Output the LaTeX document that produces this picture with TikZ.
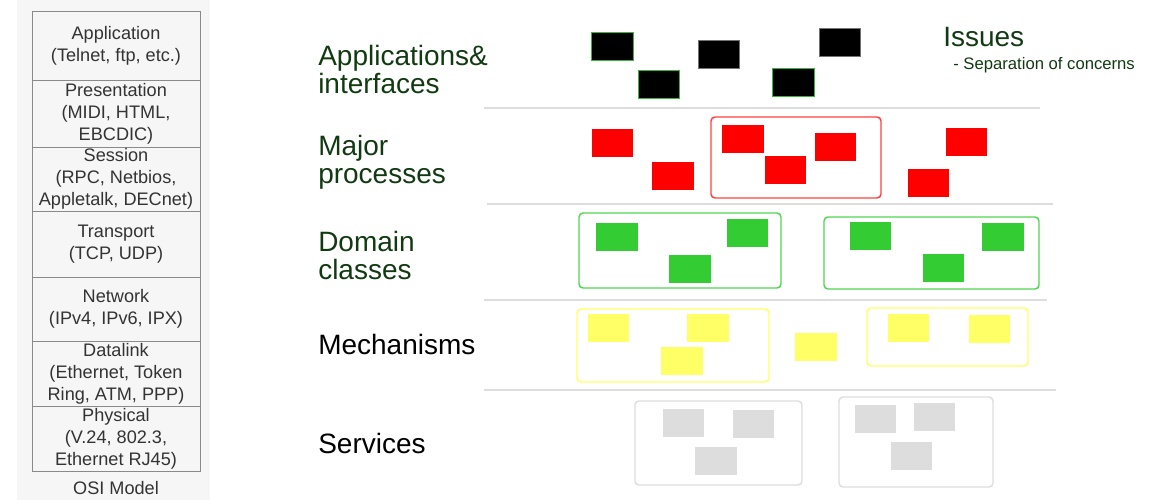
\documentclass[tikz,border=0pt]{standalone}
\usepackage{fontspec}
\setmainfont{Liberation Sans}
\definecolor{ositext}{HTML}{333333}
\definecolor{osiline}{HTML}{8A8A8A}
\definecolor{osibg}{HTML}{F6F6F6}
\definecolor{lblgreen}{HTML}{123A12}
\definecolor{sepgray}{HTML}{DDDDDD}
\definecolor{cred}{HTML}{FF0000}
\definecolor{cgreen}{HTML}{33CC33}
\definecolor{cyellow}{HTML}{FFFF66}
\definecolor{cgray}{HTML}{DDDDDD}
\definecolor{gedge}{HTML}{3CB43C}
\begin{document}
\begin{tikzpicture}[x=0.75pt,y=-0.75pt,
  osicell/.style={draw=osiline, line width=0.6pt, minimum width=126pt, inner sep=0pt,
    align=center, text=ositext, font=\fontsize{13.6}{16.5}\selectfont},
  lbl/.style={anchor=base west, inner sep=0pt, align=left, font=\fontsize{21}{21}\selectfont},
  sep/.style={draw=sepgray, line width=1.5pt},
  sbox/.style={minimum width=31pt, minimum height=21pt, inner sep=0pt, outer sep=0pt},
  blk/.style={sbox, fill=black, draw=black!55, line width=0.5pt},
  blkg/.style={sbox, fill=black, draw=gedge, line width=0.6pt},
  rbox/.style={sbox, fill=cred},
  gbox/.style={sbox, fill=cgreen},
  ybox/.style={sbox, fill=cyellow},
  xbox/.style={sbox, fill=cgray},
  frame/.style={rounded corners=3pt, line width=1.1pt, inner sep=0pt}
]
\useasboundingbox (0,0) rectangle (1159,500);
% OSI panel
\fill[osibg] (17,0) rectangle (210,500);
\node[osicell, minimum height=51.75pt] (l7) at (116,45.5) {Application\\(Telnet, ftp, etc.)};
\node[osicell, minimum height=50.25pt] (l6) at (116,113.5) {Presentation\\(MIDI, HTML,\\EBCDIC)};
\node[osicell, minimum height=48pt] (l5) at (116,179) {Session\\(RPC, Netbios,\\Appletalk, DECnet)};
\node[osicell, minimum height=49.5pt] (l4) at (116,244) {Transport\\(TCP, UDP)};
\node[osicell, minimum height=48pt] (l3) at (116,309) {Network\\(IPv4, IPv6, IPX)};
\node[osicell, minimum height=48.75pt] (l2) at (116,373.5) {Datalink\\(Ethernet, Token\\Ring, ATM, PPP)};
\node[osicell, minimum height=48.75pt] (l1) at (116,438.5) {Physical\\(V.24, 802.3,\\Ethernet RJ45)};
\node[text=ositext, font=\fontsize{13.6}{16.5}\selectfont, inner sep=0pt] (osi) at (116,488) {OSI Model};

% labels (base anchor = baseline of last line)
\node[lbl, text=lblgreen] (t1) at (318,93) {Applications\&\\interfaces};
\node[lbl, text=lblgreen] (t2) at (318,183) {Major\\processes};
\node[lbl, text=lblgreen] (t3) at (318,279) {Domain\\classes};
\node[lbl, text=black] (t4) at (318,354) {Mechanisms};
\node[lbl, text=black] (t5) at (318,453) {Services};
\node[lbl, text=lblgreen] (iss) at (943,46) {Issues};
\node[anchor=base west, inner sep=0pt, text=lblgreen, font=\fontsize{12.5}{14}\selectfont] (soc) at (953,69) {- Separation of concerns};

% separators
\coordinate (s1a) at (484,108); \coordinate (s1b) at (1040,108);
\coordinate (s2a) at (487,204); \coordinate (s2b) at (1053,204);
\coordinate (s3a) at (484,300); \coordinate (s3b) at (1047,300);
\coordinate (s4a) at (484,390); \coordinate (s4b) at (1056,390);
\draw[sep] (s1a) -- (s1b);
\draw[sep] (s2a) -- (s2b);
\draw[sep] (s3a) -- (s3b);
\draw[sep] (s4a) -- (s4b);

% black
\node[blkg] (b1) at (612.5,46.5) {};
\node[blkg] (b2) at (659,84) {};
\node[blk]  (b3) at (718.5,54) {};
\node[blk]  (b4) at (840,42) {};
\node[blkg] (b5) at (793.5,82) {};

% red
\node[frame, draw=cred!75, minimum width=127.5pt, minimum height=60.75pt] (rf) at (796,157.5) {};
\node[rbox] (r1) at (612.5,142.5) {};
\node[rbox] (r2) at (673,176) {};
\node[rbox] (r3) at (743,138.5) {};
\node[rbox] (r4) at (785.5,170) {};
\node[rbox] (r5) at (835.5,146.5) {};
\node[rbox] (r6) at (928.5,183) {};
\node[rbox] (r7) at (966.5,142) {};

% green
\node[frame, draw=cgreen!85, minimum width=151.5pt, minimum height=56.25pt] (gf1) at (680,250.5) {};
\node[frame, draw=cgreen!85, minimum width=161.25pt, minimum height=54pt] (gf2) at (931.5,253) {};
\node[gbox] (g1a) at (617,237) {};
\node[gbox] (g1b) at (747.5,233) {};
\node[gbox] (g1c) at (690,269) {};
\node[gbox] (g2a) at (870.5,236) {};
\node[gbox] (g2b) at (1003,237) {};
\node[gbox] (g2c) at (943.5,268) {};

% yellow
\node[frame, draw=cyellow, minimum width=144pt, minimum height=54.75pt] (yf1) at (673,345.5) {};
\node[frame, draw=cyellow, minimum width=120.75pt, minimum height=43.5pt] (yf3) at (947.5,337) {};
\node[ybox] (y1a) at (608.5,328) {};
\node[ybox] (y1b) at (708,328) {};
\node[ybox] (y1c) at (682,361) {};
\node[ybox] (y2)  at (816,346.5) {};
\node[ybox] (y3a) at (908.5,328) {};
\node[ybox] (y3b) at (989.5,329) {};

% gray
\node[frame, draw=cgray, minimum width=125.25pt, minimum height=63pt] (sf1) at (718.5,443) {};
\node[frame, draw=cgray, minimum width=115.5pt, minimum height=67.5pt] (sf2) at (916,442) {};
\node[xbox] (s1x) at (683.5,422.5) {};
\node[xbox] (s1y) at (753.5,424) {};
\node[xbox] (s1z) at (716,461) {};
\node[xbox] (s2x) at (875.5,418.5) {};
\node[xbox] (s2y) at (934.5,417) {};
\node[xbox] (s2z) at (911.5,456) {};
\end{tikzpicture}
\end{document}
